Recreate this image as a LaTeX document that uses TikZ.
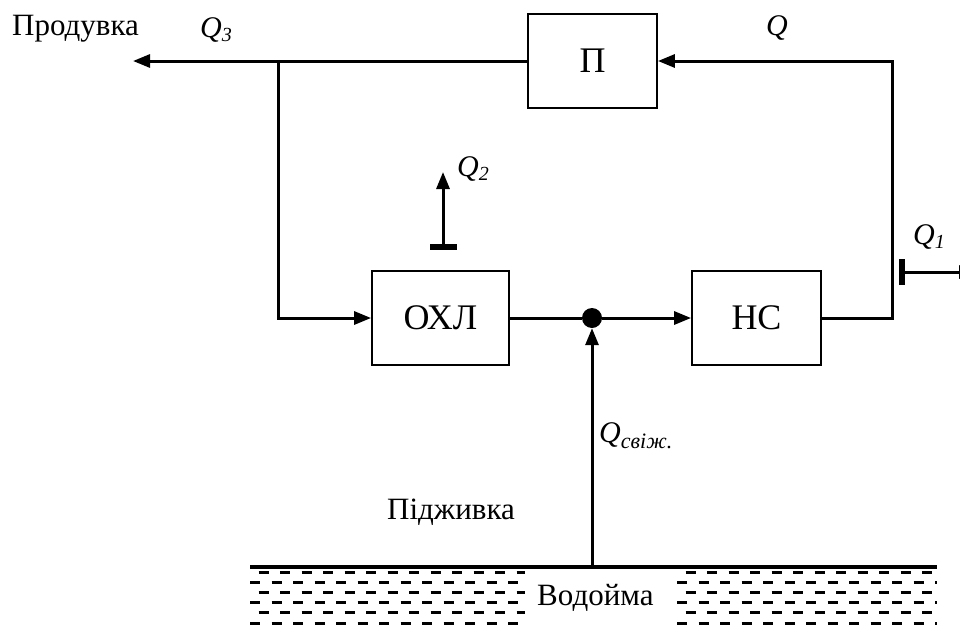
\documentclass[tikz,border=0pt]{standalone}
\usepackage{fontspec}
\setmainfont{Liberation Serif}
\usetikzlibrary{arrows.meta}
\begin{document}
\begin{tikzpicture}[x=1pt,y=-1pt,
  flow/.style={line width=3pt},
  arr/.style={-{Triangle[length=17pt,width=13pt]}},
  block/.style={draw,line width=1.8pt,inner sep=0pt,font=\fontsize{36}{40}\selectfont},
  lbl/.style={inner sep=0pt,anchor=base west,font=\fontsize{31}{36}\selectfont},
  qlbl/.style={inner sep=0pt,anchor=base west,font=\fontsize{30}{34}\selectfont\itshape},
  bar/.style={line width=5.5pt},
  water/.style={line width=3pt,dash pattern=on 10pt off 11.5pt}]
\useasboundingbox (0,0) rectangle (960,632);
% blocks
\node[block,minimum width=129pt,minimum height=94pt] (P) at (592.5,61) {П};
\node[block,minimum width=137pt,minimum height=94pt] (OXL) at (440.5,318) {ОХЛ};
\node[block,minimum width=129pt,minimum height=94pt] (HC) at (756.5,318) {НС};
\node[circle,fill,minimum size=20pt,inner sep=0pt] (dot) at (592,318) {};
% coordinates
\coordinate (br) at (892,318);
\coordinate (tr) at (892,61);
\coordinate (lt) at (278,61);
\coordinate (lb) at (278,318);
\coordinate (outL) at (133,61);
\coordinate (feed) at (592,567);
\coordinate (q1s) at (902,272);
\coordinate (q1e) at (976,272);
\coordinate (q2s) at (443,247);
\coordinate (q2e) at (443,172);
% connectors
\draw[flow,arr] (HC.east) -- (br) -- (tr) -- (P.east);
\draw[flow,arr] (P.west) -- (outL);
\draw[flow,arr] (lt) -- (lb) -- (OXL.west);
\draw[flow] (OXL.east) -- (dot);
\draw[flow,arr] (dot) -- (HC.west);
\draw[flow,arr] (feed) -- (dot.south);
% Q1 outlet
\draw[bar] (902,259) -- (902,285);
\draw[flow,arr] (q1s) -- (q1e);
% Q2 outlet
\draw[bar] (430,247) -- (457,247);
\draw[flow,arr] (q2s) -- (q2e);
% ground line
\draw[line width=4pt] (250,567) -- (937,567);
% water
\foreach \yy/\ph in {572/13,582/0,592/13,602/0,612/13,623/0}{
  \draw[water,dash phase=\ph pt] (250,\yy) -- (525,\yy);
  \draw[water,dash phase=\ph pt] (677,\yy) -- (937,\yy);
}
% labels
\node[lbl] (prod) at (12,35) {Продувка};
\node[qlbl] (q3) at (200,37) {Q\textsubscript{\fontsize{20}{22}\selectfont 3}};
\node[qlbl] (q) at (766,35) {Q};
\node[qlbl] (q2) at (457,176) {Q\textsubscript{\fontsize{20}{22}\selectfont 2}};
\node[qlbl] (q1) at (913,244) {Q\textsubscript{\fontsize{20}{22}\selectfont 1}};
\node[qlbl] (qsv) at (599,442) {Q\textsubscript{\fontsize{22}{24}\selectfont свіж.}};
\node[lbl] (pidzh) at (387,519) {Підживка};
\node[lbl] (vod) at (537,605) {Водойма};
\end{tikzpicture}
\end{document}
